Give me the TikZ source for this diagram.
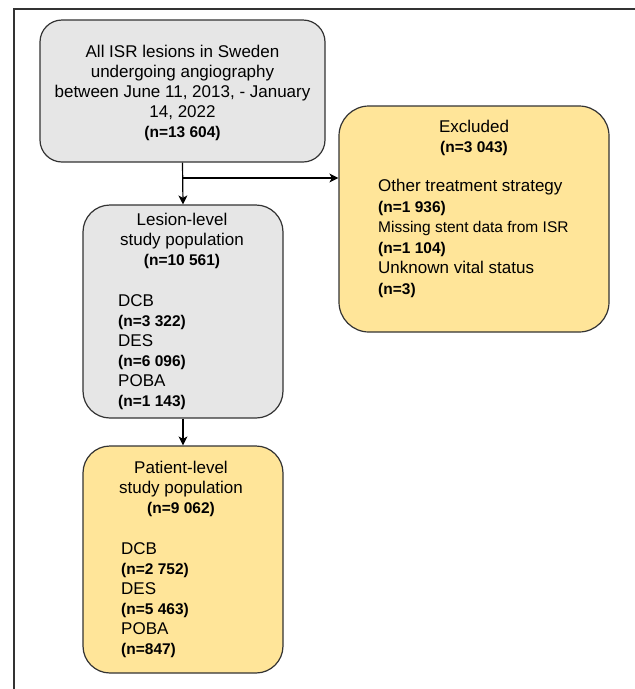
\documentclass[tikz,border=0pt]{standalone}
\usepackage{fontspec}
\setmainfont{Liberation Sans}
\usetikzlibrary{arrows.meta}
\definecolor{boxgray}{HTML}{E6E6E6}
\definecolor{boxyellow}{HTML}{FFE599}
\definecolor{edgegray}{HTML}{333333}
\newcommand{\cnt}[1]{{\fontsize{15.5}{20}\selectfont\bfseries #1}}

\begin{document}
\begin{tikzpicture}[x=1pt,y=-1pt,
    flowbox/.style={draw=edgegray,line width=1.2pt,inner sep=0pt},
    graybox/.style={flowbox,fill=boxgray},
    yellowbox/.style={flowbox,fill=boxyellow},
    flowarrow/.style={line width=1.2pt,-{Stealth[length=9pt,width=9pt,inset=2.5pt]}},
    txt/.style={inner sep=0pt,font=\fontsize{17}{20}\selectfont}]
      \useasboundingbox (0,0) rectangle (635,689);
      \draw[line width=2pt,edgegray] (14,689) -- (14,9) -- (635,9);

      % boxes
      \node[graybox,rounded corners=22pt,minimum width=285,minimum height=142] (all) at (182.5,91) {};
      \node[graybox,rounded corners=27pt,minimum width=200,minimum height=213] (lesion) at (183,311.5) {};
      \node[yellowbox,rounded corners=27pt,minimum width=200,minimum height=227] (patient) at (183,559.5) {};
      \node[yellowbox,rounded corners=30pt,minimum width=270,minimum height=226] (excl) at (474,219) {};

      % texts
      \node[txt,align=center] (alltxt) at (182.5,93) {All ISR lesions in Sweden\\ undergoing angiography\\ between June 11, 2013, - January\\ 14, 2022\\ \cnt{(n=13 604)}};

      \node[txt,align=center] (lesionhead) at (182,241) {Lesion-level\\ study population\\ \cnt{(n=10 561)}};
      \node[txt,align=left,anchor=west] (lesionlist) at (118,352) {DCB\\ \cnt{(n=3 322)}\\ DES\\ \cnt{(n=6 096)}\\ POBA\\ \cnt{(n=1 143)}};

      \node[txt,align=center] (patienthead) at (181,488.5) {Patient-level\\ study population\\ \cnt{(n=9 062)}};
      \node[txt,align=left,anchor=west] (patientlist) at (121,600) {DCB\\ \cnt{(n=2 752)}\\ DES\\ \cnt{(n=5 463)}\\ POBA\\ \cnt{(n=847)}};

      \node[txt,align=center] (exclhead) at (474,137.5) {Excluded\\ \cnt{(n=3 043)}};
      \node[txt,align=left,anchor=west,font=\fontsize{17}{20.6}\selectfont] (excllist) at (378,238.5) {Other treatment strategy\\ \cnt{(n=1 936)}\\ {\fontsize{15.5}{20}\selectfont Missing stent data from ISR}\\ \cnt{(n=1 104)}\\ Unknown vital status\\ \cnt{(n=3)}};

      % arrows
      \coordinate (split) at (182.5,178);
      \draw[flowarrow] (all.south) -- (lesion.north);
      \draw[flowarrow] (split) -- (split -| excl.west);
      \draw[flowarrow] (lesion.south) -- (patient.north);
\end{tikzpicture}
\end{document}
